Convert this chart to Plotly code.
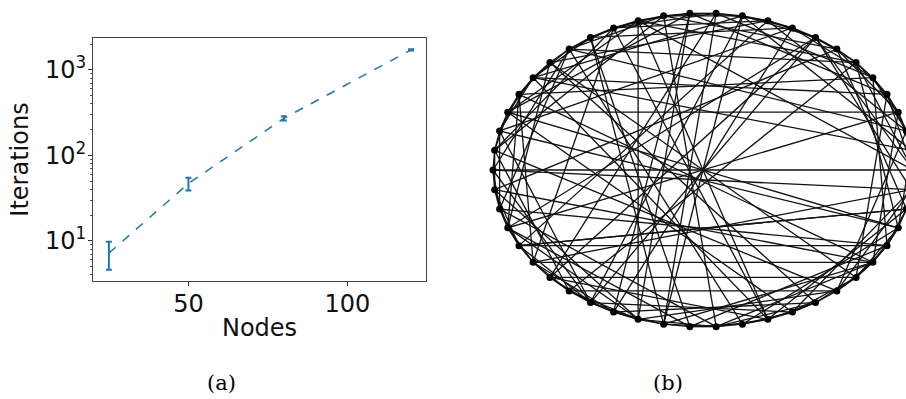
import math
import plotly.graph_objects as go

# ---- panel (a) data ----
nodes = [25, 50, 80, 120]
iterations = [7.2, 47, 272, 1715]
iter_err = [2.6, 8, 15, 30]

# ---- panel (b) graph data (50 nodes on a circle) ----
n_nodes = 50
edges = [
    # ring
    (0,1),(1,2),(2,3),(3,4),(4,5),(5,6),(6,7),(7,8),(8,9),(9,10),
    (10,11),(11,12),(12,13),(13,14),(14,15),(15,16),(16,17),(17,18),(18,19),(19,20),
    (20,21),(21,22),(22,23),(23,24),(24,25),(25,26),(26,27),(27,28),(28,29),(29,30),
    (30,31),(31,32),(32,33),(33,34),(34,35),(35,36),(36,37),(37,38),(38,39),(39,40),
    (40,41),(41,42),(42,43),(43,44),(44,45),(45,46),(46,47),(47,48),(48,49),(49,0),
    # short chords
    (0,2),(1,3),(3,5),(4,6),(6,8),(7,9),(9,11),(10,12),(12,14),(13,15),(15,17),(16,18),
    (18,20),(19,21),(21,23),(22,24),(24,26),(25,27),(27,29),(28,30),(30,32),(31,33),
    (33,35),(34,36),(36,38),(37,39),(39,41),(40,42),(42,44),(43,45),(45,47),(46,48),
    (48,0),(49,1),
    (2,4),(8,10),(14,16),(20,22),(26,28),(32,34),(38,40),(44,46),
    (0,4),(2,5),(5,9),(8,11),(11,14),(14,18),(17,20),(20,23),(23,27),(26,29),(29,33),
    (32,35),(35,38),(38,42),(41,44),(44,47),(47,1),(3,7),(12,16),(30,34),
    # medium chords
    (0,8),(2,10),(4,13),(6,15),(9,17),(11,20),(13,22),(16,24),(18,27),(21,30),(24,32),
    (26,35),(28,37),(31,40),(34,42),(36,45),(39,47),(41,49),(43,2),(46,5),(48,7),(1,11),
    (10,19),(19,28),(27,38),(37,46),(44,4),(14,24),(23,33),
    (0,6),(5,12),(7,14),(10,16),(15,22),(18,25),(21,28),(25,33),(28,35),(33,41),
    (35,43),(38,45),(40,48),(43,49),(45,3),(47,6),(49,8),
    # long chords
    (0,15),(1,20),(2,18),(3,22),(5,21),(7,26),(8,28),(10,29),(12,31),(13,34),(15,35),
    (17,36),(20,40),(22,41),(24,43),(26,45),(29,48),(30,49),(32,6),(34,9),(36,12),
    (38,14),(40,16),(42,19),(45,21),(47,23),(49,25),(31,8),(33,11),(35,13),(37,17),
    (39,18),(46,27),(48,29),
    (6,18),(31,44),(30,45),(32,43),(29,46),(4,20),(9,23),(16,30),
    # diameters
    (0,25),(3,28),(8,33),(11,36),(15,40),(19,44),(22,47),
]

# circular layout (like networkx.circular_layout)
pos = [(math.cos(2 * math.pi * i / n_nodes), math.sin(2 * math.pi * i / n_nodes)) for i in range(n_nodes)]

ex, ey = [], []
for a, b in edges:
    ex += [pos[a][0], pos[b][0], None]
    ey += [pos[a][1], pos[b][1], None]

fig = go.Figure()

fig.add_trace(go.Scatter(
    x=nodes, y=iterations, mode="lines",
    line=dict(color="#1f77b4", width=1.5, dash="dash"),
    error_y=dict(type="data", array=iter_err, color="#1f77b4", thickness=2, width=3),
    xaxis="x", yaxis="y", showlegend=False,
))

fig.add_trace(go.Scatter(
    x=ex, y=ey, mode="lines", line=dict(color="#111", width=1.3),
    xaxis="x2", yaxis="y2", showlegend=False, hoverinfo="skip",
))
fig.add_trace(go.Scatter(
    x=[p[0] for p in pos], y=[p[1] for p in pos], mode="markers",
    marker=dict(color="black", size=7),
    xaxis="x2", yaxis="y2", showlegend=False,
))

tick_font = dict(family="DejaVu Sans, sans-serif", size=24, color="#111")
title_font = dict(family="DejaVu Sans, sans-serif", size=24, color="#111")

fig.update_layout(
    width=906, height=399,
    margin=dict(l=0, r=0, t=0, b=0),
    paper_bgcolor="white", plot_bgcolor="white",
    xaxis=dict(
        domain=[93 / 906, 426 / 906], range=[20, 124.7],
        tickvals=[50, 100], ticks="outside", ticklen=4, tickcolor="#333",
        showline=True, linecolor="#444", linewidth=1, mirror=True,
        showgrid=False, zeroline=False, tickfont=tick_font,
        ticklabelstandoff=-3,
        title=dict(text="Nodes", font=title_font, standoff=2),
    ),
    yaxis=dict(
        domain=[1 - 281 / 399, 1 - 38 / 399], type="log",
        range=[math.log10(3.4), math.log10(2366)],
        tickvals=[10, 100, 1000],
        ticktext=["10<sup>1</sup>", "10<sup>2</sup>", "10<sup>3</sup>"],
        ticks="outside", ticklen=4, tickcolor="#333",
        minor=dict(ticks="outside", ticklen=2.5, tickcolor="#555",
                   tickvals=[4, 5, 6, 7, 8, 9, 20, 30, 40, 50, 60, 70, 80, 90,
                             200, 300, 400, 500, 600, 700, 800, 900, 2000]),
        showline=True, linecolor="#444", linewidth=1, mirror=True,
        showgrid=False, zeroline=False, tickfont=tick_font,
        ticklabelstandoff=-3,
        title=dict(text="Iterations", font=title_font, standoff=9),
    ),
    xaxis2=dict(
        domain=[0.5, 1.0], range=[-1 - 40 / 210, -1 + 413 / 210],
        visible=False, showgrid=False, zeroline=False,
    ),
    yaxis2=dict(
        domain=[0, 1], range=[-1 - 72 / 157, 1 + 13 / 157],
        visible=False, showgrid=False, zeroline=False,
    ),
    annotations=[
        dict(text="(a)", x=221 / 906, y=1 - 383 / 399, xref="paper", yref="paper",
             xanchor="center", yanchor="middle",
             showarrow=False, font=dict(family="DejaVu Serif, serif", size=21, color="black")),
        dict(text="(b)", x=668 / 906, y=1 - 383 / 399, xref="paper", yref="paper",
             xanchor="center", yanchor="middle",
             showarrow=False, font=dict(family="DejaVu Serif, serif", size=21, color="black")),
    ],
)

fig.write_html("out.html")
